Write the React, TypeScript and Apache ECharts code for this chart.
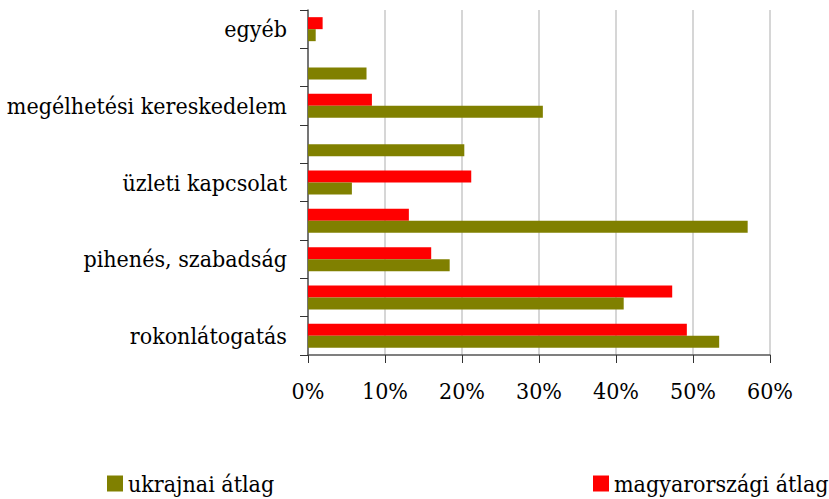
import React, { useEffect, useRef } from "react";
import * as echarts from "echarts";

const categories = [
  "rokonlátogatás",
  "",
  "pihenés, szabadság",
  "",
  "üzleti kapcsolat",
  "",
  "megélhetési kereskedelem",
  "",
  "egyéb",
];
const seriesNames = ["ukrajnai átlag", "magyarországi átlag"];
const ukrajnai = [53.4, 41.0, 18.4, 57.1, 5.7, 20.3, 30.5, 7.6, 1.0];
const magyarorszagi = [49.2, 47.3, 16.0, 13.1, 21.2, 0, 8.3, 0, 1.9];
const colors = ["#808000", "#ff0000"];

const FONT = "DejaVu Serif Condensed, DejaVu Serif, serif";

export default function App() {
  const ref = useRef<HTMLDivElement>(null);
  useEffect(() => {
    if (!ref.current) return;
    const chart = echarts.init(ref.current, null, { renderer: "svg" });
    const legendText = { fontFamily: FONT, fontSize: 23, color: "#000" };
    chart.setOption({
      animation: false,
      textStyle: { fontFamily: FONT },
      grid: {
        left: 308,
        right: 59,
        top: 10,
        bottom: 144,
        containLabel: false,
        outerBoundsMode: "none",
      },
      legend: [
        {
          data: [seriesNames[0]],
          left: 107,
          top: 472,
          padding: 0,
          itemWidth: 16,
          itemHeight: 16,
          icon: "rect",
          textStyle: legendText,
        },
        {
          data: [seriesNames[1]],
          left: 593,
          top: 472,
          padding: 0,
          itemWidth: 16,
          itemHeight: 16,
          icon: "rect",
          textStyle: legendText,
        },
      ],
      xAxis: {
        type: "value",
        min: 0,
        max: 60,
        interval: 10,
        axisLine: { show: true, lineStyle: { color: "#555", width: 1.5 } },
        axisTick: { show: true, length: 8, lineStyle: { color: "#333" } },
        splitLine: { show: true, lineStyle: { color: "#c8c8c8", width: 1.5 } },
        axisLabel: {
          formatter: "{value}%",
          fontFamily: FONT,
          fontSize: 23,
          color: "#000",
          margin: 24,
        },
      },
      yAxis: {
        type: "category",
        data: categories,
        axisLine: { show: true, lineStyle: { color: "#555", width: 1.5 } },
        axisTick: { show: true, interval: 0, length: 8, lineStyle: { color: "#333" } },
        axisLabel: {
          interval: 0,
          fontFamily: FONT,
          fontSize: 23,
          color: "#000",
          margin: 21,
        },
        splitLine: { show: false },
      },
      series: [
        {
          name: seriesNames[1],
          type: "bar",
          data: magyarorszagi,
          barWidth: 12,
          barGap: "0%",
          itemStyle: { color: colors[1] },
        },
        {
          name: seriesNames[0],
          type: "bar",
          data: ukrajnai,
          barWidth: 12,
          barGap: "0%",
          itemStyle: { color: colors[0] },
        },
      ],
    });
    return () => chart.dispose();
  }, []);
  return <div ref={ref} style={{ width: 829, height: 499, position: "absolute", left: 0, top: 0 }} />;
}
